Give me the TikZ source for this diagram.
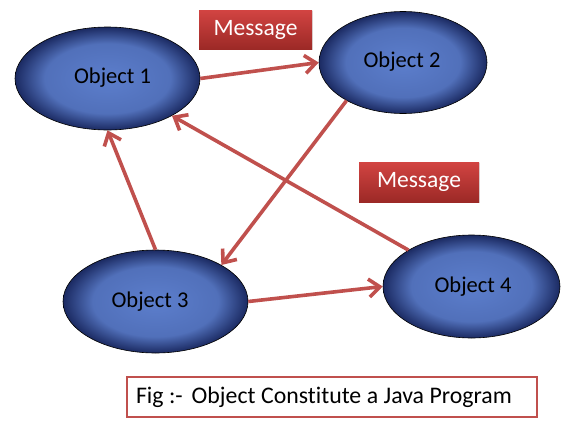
\documentclass[tikz,border=0pt]{standalone}
\usepackage{fontspec}
\setmainfont{Carlito}[Ligatures=CommonOff]
\usetikzlibrary{arrows.meta,shapes.geometric,shadows}
\definecolor{arrred}{HTML}{C0504D}
\definecolor{objin}{HTML}{5C7ECC}
\definecolor{objmid}{HTML}{5170BA}
\definecolor{objout}{HTML}{1B2A62}
\definecolor{msgtop}{HTML}{D24442}
\definecolor{msgbot}{HTML}{9C2926}
\pgfdeclareradialshading{objshade}{\pgfpoint{0bp}{0bp}}{color(0bp)=(objin); color(17bp)=(objmid); color(25bp)=(objout); color(50bp)=(objout)}
\newcommand{\tightspaces}{\spaceskip=5.5pt plus 1pt minus 1pt\relax}
\tikzset{
  objnode/.style={ellipse, draw=black, line width=0.6pt, shading=objshade, inner sep=0pt},
  objtext/.style={font=\fontsize{22.5}{24}\selectfont, text=black, inner sep=0pt},
  msgbox/.style={rectangle, top color=msgtop, bottom color=msgbot, draw=none,
    text=white, font=\fontsize{23.5}{25}\selectfont, inner sep=0pt,
    drop shadow={opacity=0.25, shadow xshift=1.2pt, shadow yshift=-1.2pt}},
  conn/.style={draw=arrred, line width=3.6pt, -{Straight Barb[length=11pt, width=18pt]}},
  capbox/.style={rectangle, draw=arrred, line width=2.4pt, fill=white,
    font=\fontsize{23.8}{25}\selectfont,
    text width=392pt, align=left, inner xsep=9pt, minimum height=40pt}
}
\begin{document}
\begin{tikzpicture}[x=1pt, y=-1pt]
\useasboundingbox (0,0) rectangle (568,426);
% objects
\node[objnode, minimum width=185pt, minimum height=103pt] (o1) at (107.5,78.5) {};
\node[objnode, minimum width=168pt, minimum height=102pt] (o2) at (403,62.5) {};
\node[objnode, minimum width=185pt, minimum height=103pt] (o3) at (155.5,301.5) {};
\node[objnode, minimum width=177pt, minimum height=103pt] (o4) at (471.5,286.5) {};
\node[objtext] (t1) at (112.5,78) {Object 1};
\node[objtext] (t2) at (402,62) {Object 2};
\node[objtext] (t3) at (150,302) {Object 3};
\node[objtext] (t4) at (473,287) {Object 4};
% messages
\node[msgbox, minimum width=113pt, minimum height=39pt] (m1) at (255.5,29.5) {Message};
\node[msgbox, minimum width=120pt, minimum height=40pt] (m2) at (419,182) {Message};
% connectors
\draw[conn] (o1.east) -- (o2.west);
\draw[conn] (o2.214) -- (o3.29.5);
\draw[conn] (o3.north) -- (o1.south);
\draw[conn] (o4.150) -- (o1.330);
\draw[conn] (o3.east) -- (o4.west);
% caption
\node[capbox] (cap) at (332,397) {\tightspaces Fig :-\hspace{9pt}Object Constitute a Java Program};
\end{tikzpicture}
\end{document}
